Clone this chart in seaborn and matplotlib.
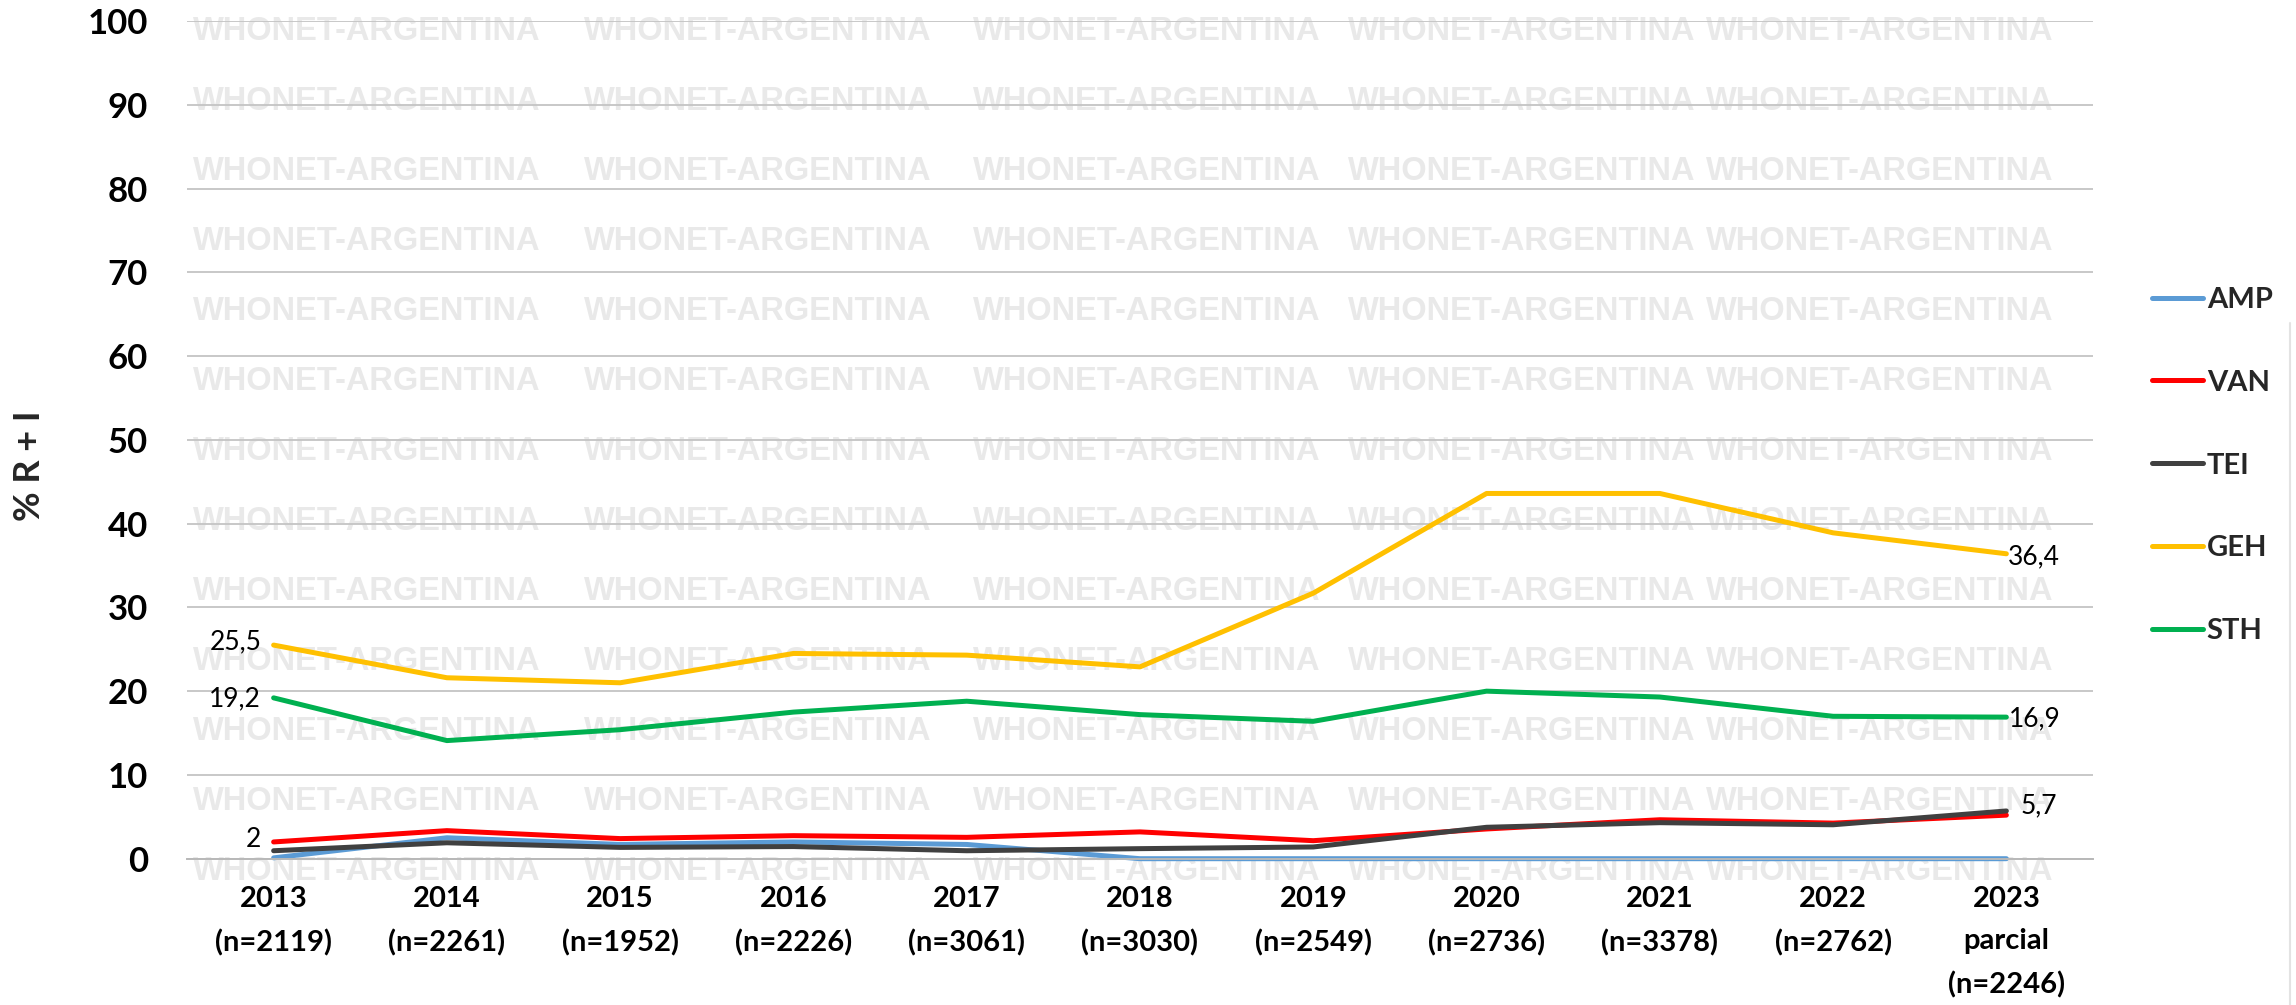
import numpy as np
import pandas as pd
import matplotlib
matplotlib.use("Agg")
import matplotlib.pyplot as plt
from matplotlib.lines import Line2D
import seaborn as sns

# ---------------- data ----------------
categories = ["2013\n(n=2119)", "2014\n(n=2261)", "2015\n(n=1952)", "2016\n(n=2226)",
              "2017\n(n=3061)", "2018\n(n=3030)", "2019\n(n=2549)", "2020\n(n=2736)",
              "2021\n(n=3378)", "2022\n(n=2762)", "2023\nparcial\n(n=2246)"]
series_names = ["AMP", "VAN", "TEI", "GEH", "STH"]
amp = [0.1, 2.5, 1.7, 2.0, 1.7, 0.0, 0.0, 0.0, 0.0, 0.0, 0.0]
van = [2.0, 3.35, 2.4, 2.75, 2.55, 3.2, 2.15, 3.55, 4.65, 4.25, 5.2]
tei = [0.95, 1.9, 1.35, 1.45, 0.95, 1.2, 1.4, 3.75, 4.3, 4.05, 5.7]
geh = [25.5, 21.6, 21.0, 24.5, 24.3, 22.9, 31.7, 43.6, 43.6, 38.9, 36.4]
sth = [19.2, 14.1, 15.4, 17.5, 18.8, 17.2, 16.4, 20.0, 19.3, 17.0, 16.9]
yticks = list(range(0, 101, 10))
watermark = "WHONET-ARGENTINA"

palette = {"AMP": "#5B9BD5", "VAN": "#FF0000", "TEI": "#404040",
           "GEH": "#FFC000", "STH": "#00B050"}

values = {"AMP": amp, "VAN": van, "TEI": tei, "GEH": geh, "STH": sth}
pos = np.arange(len(categories))
df = pd.concat([pd.DataFrame({"pos": pos, "value": values[s], "series": s})
                for s in series_names], ignore_index=True)

# ---------------- style ----------------
sns.set_theme(style="white")
plt.rcParams["font.family"] = ["Lato", "DejaVu Sans"]

W, H = 2296, 1005
fig = plt.figure(figsize=(W / 100, H / 100), dpi=100)
ax = fig.add_axes([187 / W, 1 - 858.7 / H, (2093 - 187) / W, (858.7 - 21) / H])

# watermark (behind everything)
wm_cols = [193, 584, 973, 1348, 1706]
wm_rows = [31 + 70 * k for k in range(13)]
for yy in wm_rows:
    for xx in wm_cols:
        ax.text(xx / W, 1 - yy / H, watermark, transform=fig.transFigure,
                ha="left", va="center", fontsize=23.5, fontweight="bold",
                family=["Liberation Sans", "DejaVu Sans"], color="#E9E9E9",
                zorder=0.1, clip_on=False)

sns.lineplot(data=df, x="pos", y="value", hue="series", hue_order=series_names,
             palette=palette, linewidth=3.6, ax=ax, legend=True, sort=False)
for ln in ax.lines:
    ln.set_clip_on(False)
    ln.set_solid_capstyle("round")
    ln.set_solid_joinstyle("round")

ax.set_xlim(-0.5, len(categories) - 0.5)
ax.set_ylim(0, 100)
ax.set_xticks(pos)
ax.set_xticklabels(categories, fontsize=21, fontweight="bold", linespacing=1.75)
ax.set_yticks(yticks)
ax.set_yticklabels([str(t) for t in yticks], fontsize=25, fontweight="bold")
ax.tick_params(axis="x", length=0, pad=20, colors="black")
ax.tick_params(axis="y", length=0, pad=28, colors="black")
ax.set_xlabel("")
ax.set_ylabel("")
ax.set_axisbelow(True)
ax.yaxis.grid(True, color="#C4C4C4", linewidth=1.3)
ax.xaxis.grid(False)
for side in ["left", "right", "top"]:
    ax.spines[side].set_visible(False)
ax.spines["bottom"].set_color("#B8B8B8")
ax.spines["bottom"].set_linewidth(1.4)

fig.text(29 / W, 1 - 466 / H, "% R + I", rotation=90, ha="center", va="center",
         fontsize=26, fontweight="bold")

# data labels
left_labels = {"GEH": (-9, 2), "STH": (-9, -1), "VAN": (-9, 2)}
right_labels = {"GEH": (1, -2), "STH": (2, -1), "TEI": (10, 4)}

def fmt(v):
    return f"{v:g}".replace(".", ",")

for s, (dx, dy) in left_labels.items():
    v = values[s][0]
    ax.annotate(fmt(v), xy=(pos[0], v), xytext=(dx, dy), textcoords="offset points",
                ha="right", va="center", fontsize=19, color="black", zorder=5,
                annotation_clip=False)
for s, (dx, dy) in right_labels.items():
    v = values[s][-1]
    ax.annotate(fmt(v), xy=(pos[-1], v), xytext=(dx, dy), textcoords="offset points",
                ha="left", va="center", fontsize=19, color="black", zorder=5,
                annotation_clip=False)

# legend
sns.move_legend(ax, loc="center left", bbox_to_anchor=(2152 / W, 1 - 465.5 / H),
                bbox_transform=fig.transFigure, frameon=False, title=None,
                prop={"weight": "bold", "size": 21}, handlelength=1.76,
                handletextpad=0.12, labelspacing=1.95, borderaxespad=0, borderpad=0)
for h in ax.get_legend().get_lines():
    h.set_linewidth(3.6)
    h.set_solid_capstyle("round")

# faint chart border at right edge
fig.add_artist(Line2D([2290 / W, 2290 / W], [0, 1 - 323 / H], color="#E3E3E3",
                      linewidth=1.5, transform=fig.transFigure))

fig.savefig("out.png", dpi=100, facecolor="white")
